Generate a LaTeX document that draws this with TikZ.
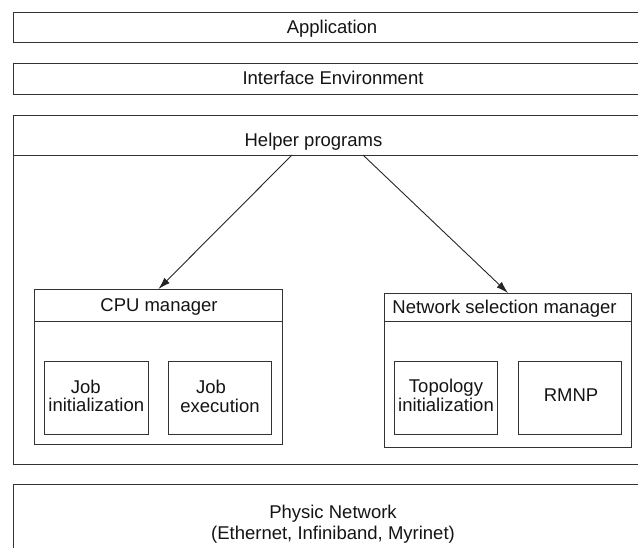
\documentclass[tikz,border=0pt]{standalone}
\usepackage{fontspec}
\setmainfont{Liberation Sans}
\usetikzlibrary{arrows.meta}
\begin{document}
\begin{tikzpicture}[x=1pt,y=-1pt,
  box/.style={draw=black!80, line width=1pt, rectangle, inner sep=0pt, anchor=north west},
  lbl/.style={text=black!92, inner sep=0pt, anchor=base, align=center, font=\fontsize{18.5}{19}\selectfont},
  arr/.style={draw=black!85, line width=0.9pt, -{Latex[length=12pt,width=7.5pt]}}]
\useasboundingbox (0,0) rectangle (638,548);
\clip (0,0) rectangle (638,548);
% layers
\node[box, minimum width=660pt, minimum height=30pt] (app) at (13,12) {};
\node[box, minimum width=660pt, minimum height=31pt] (iface) at (13,63) {};
\node[box, minimum width=660pt, minimum height=349pt] (helper) at (13,115) {};
\node[box, minimum width=660pt, minimum height=40pt] (helperhead) at (13,115) {};
\node[box, minimum width=660pt, minimum height=120pt] (phys) at (13,484) {};
% managers
\node[box, minimum width=248pt, minimum height=155pt] (cpu) at (34,289) {};
\node[box, minimum width=248pt, minimum height=32pt] (cpuhead) at (34,289) {};
\node[box, minimum width=247pt, minimum height=154pt] (nsm) at (384,293) {};
\node[box, minimum width=247pt, minimum height=28pt] (nsmhead) at (384,293) {};
% inner boxes
\node[box, minimum width=104pt, minimum height=73pt] (jinit) at (44,361) {};
\node[box, minimum width=103pt, minimum height=73pt] (jexec) at (168,361) {};
\node[box, minimum width=103pt, minimum height=73pt] (topo) at (394,361) {};
\node[box, minimum width=103pt, minimum height=73pt] (rmnp) at (518,361) {};
% labels (base anchor = baseline of the last line)
\node[lbl] (tapp) at (332,33.3) {Application};
\node[lbl] (tiface) at (333,85) {Interface Environment};
\node[lbl] (thelper) at (313.5,147) {Helper programs};
\node[lbl] (tcpu) at (159,311.7) {CPU manager};
\node[lbl] (tnsm) at (504.5,314) {Network selection manager};
\node[lbl, font=\fontsize{18.5}{18.5}\selectfont] (tjinit) at (96.3,411.7) {\hspace*{-21pt}Job\\initialization};
\node[lbl, font=\fontsize{18.5}{20}\selectfont] (tjexec) at (220,413) {\hspace*{-18pt}Job\\execution};
\node[lbl] (ttopo) at (446,411.7) {Topology\\initialization};
\node[lbl] (trmnp) at (571,401.7) {RMNP};
\node[lbl, font=\fontsize{18.5}{21}\selectfont] (tphys) at (333,539) {Physic Network\\(Ethernet, Infiniband, Myrinet)};
% connectors
\coordinate (hl) at (292,155);
\coordinate (hr) at (363,155);
\draw[arr] (hl) -- (cpu.north);
\draw[arr] (hr) -- (nsm.north);
\end{tikzpicture}
\end{document}
